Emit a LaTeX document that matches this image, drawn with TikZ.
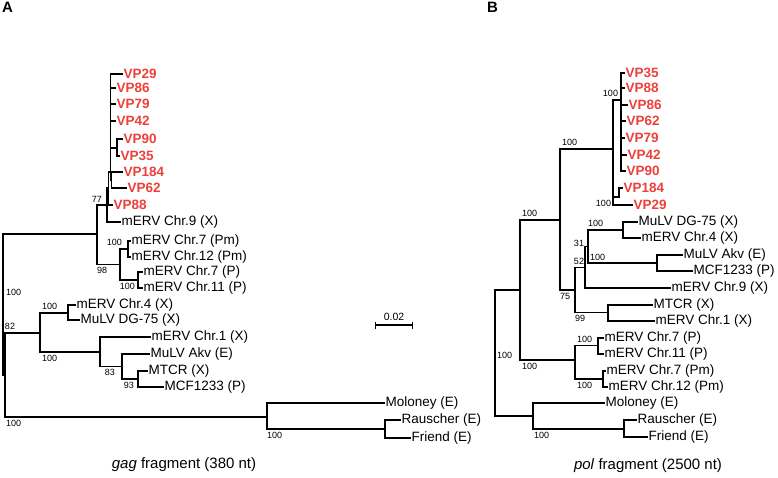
\documentclass[tikz,border=0pt]{standalone}
\usepackage{fontspec}
\setmainfont{Liberation Sans}
\usetikzlibrary{arrows.meta, calc}
\definecolor{vpred}{RGB}{236,64,58}

\begin{document}
\begin{tikzpicture}[
        x=1pt, y=-1pt,
        branch/.style={
            line width=1.8pt,
            line cap=rect
        },
        taxon/.style={
            anchor=west,
            inner sep=1.5pt,
            font=\fontsize{13.5}{15}\selectfont
        },
        isolate/.style={
            taxon,
            text=vpred,
            font=\fontsize{13.5}{15}\selectfont\bfseries
        },
        boot/.style={
            inner sep=0.8pt,
            font=\fontsize{9}{10}\selectfont
        },
        panel/.style={
            anchor=north west,
            inner sep=0pt,
            font=\fontsize{15}{16}\selectfont\bfseries
        },
        caption/.style={
            font=\fontsize{15}{17}\selectfont
        }
    ]
    \useasboundingbox (0,0) rectangle (778,478);

    % Panel labels
    \node[panel] (labA) at (2,2) {A};
    \node[panel] (labB) at (487,2) {B};

    % Tree A: inner nodes
    \coordinate (rootA) at (3,304);
    \coordinate (nA1) at (97,234);
    \coordinate (n77) at (107,205);
    \coordinate (nV1) at (108.5,188);
    \coordinate (nV2) at (110.5,172);
    \coordinate (n9035) at (117,148);
    \coordinate (n18462) at (111.5,180);
    \coordinate (n98) at (120,264.5);
    \coordinate (nPmA) at (128,249);
    \coordinate (nPA) at (138,280);
    \coordinate (n82) at (5,375);
    \coordinate (nE) at (40,333);
    \coordinate (nDG) at (68,313);
    \coordinate (nX1) at (100,352);
    \coordinate (n83) at (122,366.5);
    \coordinate (n93) at (138,379);
    \coordinate (nMol) at (267,417);
    \coordinate (nRF) at (385,429);

    % Tree A: taxa
    \node[isolate] (vp29A) at (122,74) {VP29};
    \node[isolate] (vp86A) at (115,88) {VP86};
    \node[isolate] (vp79A) at (115,104) {VP79};
    \node[isolate] (vp42A) at (115,121) {VP42};
    \node[isolate] (vp90A) at (122,139) {VP90};
    \node[isolate] (vp35A) at (119,156) {VP35};
    \node[isolate] (vp184A) at (122,172) {VP184};
    \node[isolate] (vp62A) at (126,188) {VP62};
    \node[isolate] (vp88A) at (112,205) {VP88};
    \node[taxon] (chr9A) at (120,222) {mERV Chr.9 (X)};
    \node[taxon] (chr7PmA) at (130,241) {mERV Chr.7 (Pm)};
    \node[taxon] (chr12PmA) at (130,257) {mERV Chr.12 (Pm)};
    \node[taxon] (chr7PA) at (142,272) {mERV Chr.7 (P)};
    \node[taxon] (chr11PA) at (142,288) {mERV Chr.11 (P)};
    \node[taxon] (chr4A) at (75,305) {mERV Chr.4 (X)};
    \node[taxon] (dg75A) at (79,320) {MuLV DG-75 (X)};
    \node[taxon] (chr1A) at (150,337) {mERV Chr.1 (X)};
    \node[taxon] (akvA) at (149,354) {MuLV Akv (E)};
    \node[taxon] (mtcrA) at (147,371) {MTCR (X)};
    \node[taxon] (mcfA) at (163,387) {MCF1233 (P)};
    \node[taxon] (molA) at (384,403) {Moloney (E)};
    \node[taxon] (rauA) at (400,420) {Rauscher (E)};
    \node[taxon] (friA) at (410,438) {Friend (E)};

    % Tree A: branches
    \foreach \p/\c in {rootA/nA1, rootA/n82, nA1/n77, nA1/n98, n77/nV1,
            nV1/nV2, nV2/n9035, nV2/n18462, n98/nPmA, n98/nPA, n82/nE,
            n82/nMol, nE/nDG, nE/nX1, nX1/n83, n83/n93, nMol/nRF}
        \draw[branch] (\p) |- (\c);
    \foreach \p/\c in {n77/chr9A, nV1/vp88A, nV2/vp29A, nV2/vp86A,
            nV2/vp79A, nV2/vp42A, n9035/vp90A, n9035/vp35A, n18462/vp184A,
            n18462/vp62A, nPmA/chr7PmA, nPmA/chr12PmA, nPA/chr7PA,
            nPA/chr11PA, nDG/chr4A, nDG/dg75A, nX1/chr1A, n83/akvA,
            n93/mtcrA, n93/mcfA, nMol/molA, nRF/rauA, nRF/friA}
        \draw[branch] (\p) |- (\c.west);

    % Tree A: bootstrap values
    \node[boot, anchor=west] (bA1) at (5,292) {100};
    \node[boot, anchor=south east] (bA2) at (103,204) {77};
    \node[boot, anchor=north west] (bA3) at (96,266) {98};
    \node[boot, anchor=south east] (bA4) at (123,247) {100};
    \node[boot, anchor=north east] (bA5) at (136,282) {100};
    \node[boot, anchor=south west] (bA6) at (4,331) {82};
    \node[boot, anchor=south west] (bA7) at (41,311) {100};
    \node[boot, anchor=north west] (bA8) at (41,354) {100};
    \node[boot, anchor=north east] (bA9) at (116,368) {83};
    \node[boot, anchor=north east] (bA10) at (135,381) {93};
    \node[boot, anchor=north west] (bA11) at (5,419) {100};
    \node[boot, anchor=north west] (bA12) at (266,431) {100};

    % Scale bar
    \coordinate (barL) at (375,325);
    \coordinate (barR) at (413,325);
    \draw[line width=1.2pt, {Bar[width=7pt]}-{Bar[width=7pt]}] (barL) -- (barR);
    \node[boot, anchor=south, font=\fontsize{10.5}{12}\selectfont] (barText)
        at ($(barL)!0.5!(barR)+(0,-3)$) {0.02};

    % Tree B: inner nodes
    \coordinate (rootB) at (495,353);
    \coordinate (nB1) at (520,290);
    \coordinate (nB2) at (560,220);
    \coordinate (nVPB) at (613,149);
    \coordinate (nVPa) at (621,100);
    \coordinate (n184) at (619,197);
    \coordinate (n75) at (575,290);
    \coordinate (n52) at (585,267.5);
    \coordinate (n31) at (588,246.5);
    \coordinate (nDGB) at (623,230);
    \coordinate (nAkvB) at (657,263);
    \coordinate (n99) at (608,312.5);
    \coordinate (nPPm) at (575,360);
    \coordinate (nPB) at (598,345.5);
    \coordinate (nPmB) at (603,379);
    \coordinate (nMolB) at (533,416);
    \coordinate (nRFB) at (624,429);

    % Tree B: taxa
    \node[isolate] (vp35B) at (624,73) {VP35};
    \node[isolate] (vp88B) at (624,88) {VP88};
    \node[isolate] (vp86B) at (627,105) {VP86};
    \node[isolate] (vp62B) at (625,121) {VP62};
    \node[isolate] (vp79B) at (624,138) {VP79};
    \node[isolate] (vp42B) at (626,155) {VP42};
    \node[isolate] (vp90B) at (625,171) {VP90};
    \node[isolate] (vp184B) at (622,188) {VP184};
    \node[isolate] (vp29B) at (632,205) {VP29};
    \node[taxon] (dg75B) at (637,222) {MuLV DG-75 (X)};
    \node[taxon] (chr4B) at (640,238) {mERV Chr.4 (X)};
    \node[taxon] (akvB) at (682,255) {MuLV Akv (E)};
    \node[taxon] (mcfB) at (692,271) {MCF1233 (P)};
    \node[taxon] (chr9B) at (670,288) {mERV Chr.9 (X)};
    \node[taxon] (mtcrB) at (652,305) {MTCR (X)};
    \node[taxon] (chr1B) at (654,321) {mERV Chr.1 (X)};
    \node[taxon] (chr7PB) at (603,338) {mERV Chr.7 (P)};
    \node[taxon] (chr11PB) at (603,354) {mERV Chr.11 (P)};
    \node[taxon] (chr7PmB) at (605,371) {mERV Chr.7 (Pm)};
    \node[taxon] (chr12PmB) at (607,387) {mERV Chr.12 (Pm)};
    \node[taxon] (molB) at (604,403) {Moloney (E)};
    \node[taxon] (rauB) at (636,420) {Rauscher (E)};
    \node[taxon] (friB) at (647,437) {Friend (E)};

    % Tree B: branches
    \foreach \p/\c in {rootB/nB1, rootB/nMolB, nB1/nB2, nB1/nPPm, nB2/nVPB,
            nB2/n75, nVPB/nVPa, nVPB/n184, n75/n52, n75/n99, n52/n31,
            n31/nDGB, n31/nAkvB, nPPm/nPB, nPPm/nPmB, nMolB/nRFB}
        \draw[branch] (\p) |- (\c);
    \foreach \p/\c in {nVPa/vp35B, nVPa/vp88B, nVPa/vp86B, nVPa/vp62B,
            nVPa/vp79B, nVPa/vp42B, nVPa/vp90B, n184/vp184B, nVPB/vp29B,
            n52/chr9B, nDGB/dg75B, nDGB/chr4B, nAkvB/akvB, nAkvB/mcfB,
            n99/mtcrB, n99/chr1B, nPB/chr7PB, nPB/chr11PB, nPmB/chr7PmB,
            nPmB/chr12PmB, nMolB/molB, nRFB/rauB, nRFB/friB}
        \draw[branch] (\p) |- (\c.west);

    % Tree B: bootstrap values
    \node[boot, anchor=west] (bB1) at (496,355) {100};
    \node[boot, anchor=south west] (bB2) at (521,218) {100};
    \node[boot, anchor=north west] (bB3) at (521,362) {100};
    \node[boot, anchor=south west] (bB4) at (561,147) {100};
    \node[boot, anchor=north west] (bB5) at (559,292) {75};
    \node[boot, anchor=south east] (bB6) at (585,266) {52};
    \node[boot, anchor=east] (bB7) at (585,243) {31};
    \node[boot, anchor=south west] (bB8) at (587,228) {100};
    \node[boot, anchor=south west] (bB9) at (589,262) {100};
    \node[boot, anchor=north west] (bB10) at (574,314) {99};
    \node[boot, anchor=south west] (bB11) at (576,344) {100};
    \node[boot, anchor=north west] (bB12) at (576,381) {100};
    \node[boot, anchor=south east] (bB13) at (619,98) {100};
    \node[boot, anchor=north east] (bB14) at (612,199) {100};
    \node[boot, anchor=north west] (bB15) at (533,431) {100};

    % Captions
    \node[caption] (capA) at (184,465) {\textit{gag} fragment (380 nt)};
    \node[caption] (capB) at (648,466) {\textit{pol} fragment (2500 nt)};

\end{tikzpicture}
\end{document}
